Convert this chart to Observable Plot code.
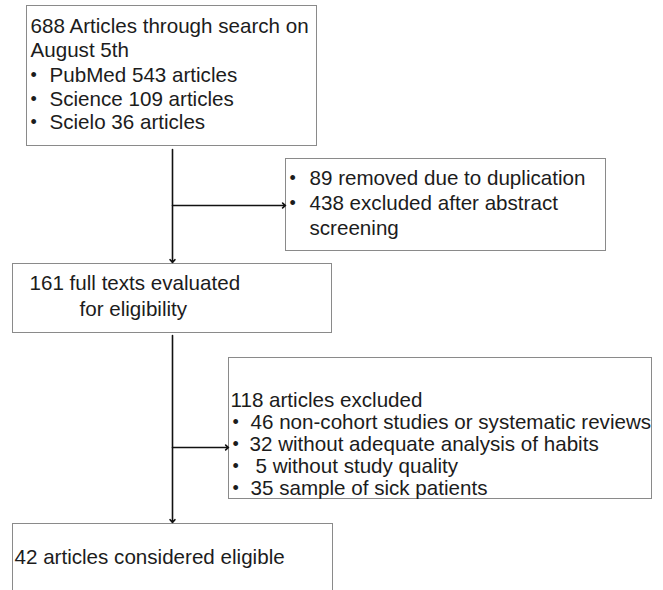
<!DOCTYPE html>
<html><head><meta charset="utf-8">
<script src="https://cdn.jsdelivr.net/npm/d3@7"></script>
<script src="https://cdn.jsdelivr.net/npm/@observablehq/plot@0.6"></script>
<style>html,body{margin:0;padding:0;overflow:hidden;background:#fff}</style>
</head><body><div id="chart"></div>
<script>
// ---- content (data) ----
const searchLines = ["688 Articles through search on", "August 5th"];
const searchSources = ["PubMed 543 articles", "Science 109 articles", "Scielo 36 articles"];
const screeningLines = ["89 removed due to duplication", "438 excluded after abstract", "screening"];
const screeningBullets = [true, true, false];
const fullTextLines = ["161 full texts evaluated", "for eligibility"];
const excludedHeader = ["118 articles excluded"];
const excludedReasons = ["46 non-cohort studies or systematic reviews", "32 without adequate analysis of habits", "5 without study quality", "35 sample of sick patients"];
const finalLines = ["42 articles considered eligible"];

// ---- layout ----
const W = 663, H = 590;
const boxes = [
  {x1: 26.5, y1: 5.5, x2: 316.5, y2: 145.5},
  {x1: 285.5, y1: 158.5, x2: 605.5, y2: 250.5},
  {x1: 12.5, y1: 263.5, x2: 331.5, y2: 332.5},
  {x1: 228.5, y1: 357.5, x2: 651.5, y2: 498.5},
  {x1: 12.5, y1: 523.5, x2: 332.5, y2: 600}
];
const texts = [];
const bullets = [];
searchLines.forEach((t, i) => texts.push({x: 30, y: 26 + i * 24, t}));
searchSources.forEach((t, i) => { texts.push({x: 49, y: 75 + i * 23.5, t}); bullets.push({x: 30, y: 75 + i * 23.5}); });
screeningLines.forEach((t, i) => { texts.push({x: 309, y: 178 + i * 25, t}); if (screeningBullets[i]) bullets.push({x: 289, y: 178 + i * 25}); });
fullTextLines.forEach((t, i) => texts.push({x: i === 0 ? 29 : 79, y: 283 + i * 26, t}));
excludedHeader.forEach((t) => texts.push({x: 230, y: 400, t}));
const reasonX = [250, 249, 255, 250];
excludedReasons.forEach((t, i) => { texts.push({x: reasonX[i], y: 421.5 + i * 22, t}); bullets.push({x: 232, y: 421.5 + i * 22}); });
finalLines.forEach((t) => texts.push({x: 14, y: 557, t}));

const arrows = [
  {x1: 172, y1: 149, x2: 172, y2: 262},
  {x1: 172, y1: 205, x2: 285, y2: 205},
  {x1: 172, y1: 335, x2: 172, y2: 522},
  {x1: 172, y1: 447, x2: 228, y2: 447}
];

const font = "'Liberation Sans', Arial, Helvetica, sans-serif";
const chart = Plot.plot({
  width: W, height: H,
  margin: 0,
  x: {domain: [0, W], range: [0, W], axis: null},
  y: {domain: [0, H], range: [0, H], axis: null},
  style: {fontFamily: font, background: "#fff"},
  marks: [
    Plot.rect(boxes, {x1: "x1", x2: "x2", y1: "y1", y2: "y2", fill: "#fff", stroke: "#8a8a8a", strokeWidth: 1, clip: true}),
    Plot.arrow(arrows, {x1: "x1", y1: "y1", x2: "x2", y2: "y2", stroke: "#111", strokeWidth: 1.6, headLength: 3.5, headAngle: 80}),
    Plot.text(texts, {x: "x", y: "y", text: "t", textAnchor: "start", lineAnchor: "middle", fontSize: 20.6, fill: "#1c1c1c", fontFamily: font}),
    Plot.text(bullets, {x: "x", y: "y", text: () => "•", textAnchor: "start", lineAnchor: "middle", fontSize: 18, fill: "#1c1c1c", fontFamily: font})
  ]
});
document.getElementById("chart").appendChild(chart);
</script>
</body></html>
